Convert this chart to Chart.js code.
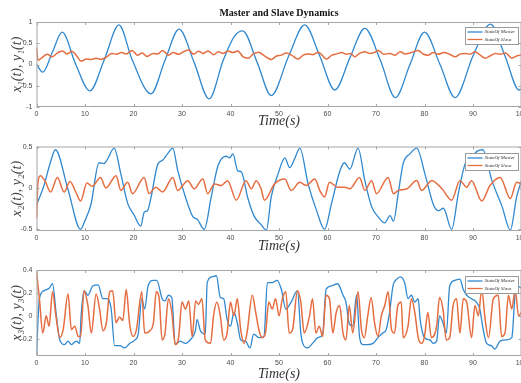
<!DOCTYPE html>
<html>
<head>
<meta charset="utf-8">
<script src="https://cdn.jsdelivr.net/npm/chart.js@4/dist/chart.umd.min.js"></script>
<style>
  html, body { margin: 0; background: #fff; overflow: hidden; }
  #wrap { position: relative; width: 521px; height: 383px; overflow: hidden; }
  canvas { position: absolute; left: 0; }
</style>
</head>
<body>
<div id="wrap">
  <canvas id="c1" width="523" height="130" style="top:0"></canvas>
  <canvas id="c2" width="523" height="125" style="top:130px"></canvas>
  <canvas id="c3" width="523" height="128" style="top:255px"></canvas>
</div>
<script>
// [time, value] samples for each state, master and slave
const master1 = [[0, 0], [1.3, -0.18], [3.3, 0.3], [5.3, 0.76], [8.1, 0.0], [11.0, -0.62], [14.0, 0.12], [17.0, 0.93],
  [19.7, 0.12], [23.6, -0.69], [26.5, 0.1], [29.4, 0.83], [32.5, 0.05], [35.6, -0.81], [38.5, 0.1], [40.8, 0.66],
  [42.5, 0.79], [45.5, 0.05], [48.4, -0.73], [52.0, 0.2], [55.3, 0.93], [58.4, 0.2], [61.5, -0.6], [64.6, 0.15],
  [67.7, 0.85], [70.9, 0.1], [74.0, -0.78], [77.0, 0.0], [80.0, 0.76], [83.2, 0.0], [86.3, -0.78], [90.0, 0.2],
  [93.6, 0.95], [96.6, 0.2], [99.5, -0.6], [100, -0.58]];
const slave1 = [[0, 0.40], [0.3, 0.10], [1.2, 0.17], [2.2, 0.24], [3.2, 0.18], [4.3, 0.27], [5.3, 0.32], [6.3, 0.25],
  [7.3, 0.31], [8.2, 0.22], [9.2, 0.08], [10.3, 0.13], [11.3, 0.12], [12.3, 0.15], [13.3, 0.12], [14.5, 0.18],
  [15.5, 0.26], [16.5, 0.24], [17.5, 0.28], [18.5, 0.25], [19.7, 0.33], [20.8, 0.22], [21.8, 0.27], [22.8, 0.19],
  [24.0, 0.26], [25.0, 0.25], [26.0, 0.33], [27.2, 0.22], [28.2, 0.28], [29.3, 0.24], [30.3, 0.30], [31.4, 0.34],
  [32.4, 0.24], [33.4, 0.31], [34.4, 0.26], [35.4, 0.32], [36.5, 0.23], [37.5, 0.30], [38.5, 0.26], [39.5, 0.32],
  [40.5, 0.28], [41.5, 0.32], [42.6, 0.18], [43.7, 0.15], [44.7, 0.25], [45.8, 0.29], [46.8, 0.22], [48.4, 0.12],
  [49.5, 0.20], [50.5, 0.22], [51.5, 0.27], [52.6, 0.22], [53.9, 0.13], [55.0, 0.22], [56.0, 0.25], [57.0, 0.23],
  [58.1, 0.29], [59.8, 0.13], [60.9, 0.22], [61.9, 0.25], [62.9, 0.28], [63.9, 0.24], [64.8, 0.26], [65.6, 0.18],
  [66.6, 0.26], [67.7, 0.30], [68.7, 0.26], [69.6, 0.28], [70.5, 0.33], [71.6, 0.24], [72.9, 0.26], [73.9, 0.22],
  [75.0, 0.30], [76.0, 0.25], [77.0, 0.27], [78.7, 0.33], [79.8, 0.24], [80.8, 0.22], [81.8, 0.28], [82.8, 0.24],
  [84.0, 0.28], [85.2, 0.24], [86.3, 0.18], [87.4, 0.25], [88.4, 0.26], [89.4, 0.24], [90.4, 0.30], [91.5, 0.22],
  [92.5, 0.15], [93.5, 0.20], [94.6, 0.26], [95.6, 0.24], [96.7, 0.27], [98.0, 0.15], [99.0, 0.20], [100, 0.23]];

const master2 = [[0, -0.21], [1.5, 0.02], [2.8, 0.3], [3.9, 0.47], [6.5, -0.02], [9.1, -0.51], [10.0, -0.4],
  [11.2, -0.21], [12.9, 0.31], [13.9, 0.30], [14.6, 0.35], [16.0, 0.49], [17.4, 0.17], [18.8, -0.19], [20.1, -0.33],
  [21.5, -0.47], [22.2, -0.30], [22.9, -0.28], [23.6, -0.12], [25.0, 0.29], [26.0, 0.34], [27.0, 0.42], [28.1, 0.49],
  [29.1, 0.22], [30.8, -0.13], [32.2, -0.35], [33.2, -0.39], [34.6, -0.51], [36.0, -0.12], [37.4, 0.27], [39.1, 0.39],
  [39.8, 0.37], [40.5, 0.42], [41.5, 0.21], [42.2, 0.20], [43.6, -0.13], [44.9, -0.35], [46.3, -0.45], [47.4, -0.52],
  [48.4, -0.11], [49.8, 0.17], [51.2, 0.37], [52.2, 0.25], [53.3, 0.37], [54.3, 0.49], [56.0, 0.05], [57.7, -0.27],
  [59.4, -0.51], [60.8, -0.2], [62.5, 0.2], [63.5, 0.31], [64.6, 0.23], [66.3, 0.49], [67.7, 0.09], [69.1, -0.23],
  [70.5, -0.36], [71.8, -0.43], [72.9, -0.34], [73.6, -0.41], [74.6, -0.06], [75.6, 0.30], [77.0, 0.42], [78.4, 0.49],
  [80.1, 0.17], [81.8, -0.2], [82.9, -0.28], [83.9, -0.25], [85.6, -0.51], [87.0, -0.06], [88.4, 0.30], [89.7, 0.37],
  [90.8, 0.45], [92.0, 0.47], [93.9, 0.09], [96.0, -0.23], [97.7, -0.52], [99.0, -0.11], [100, 0.09]];
const slave2 = [[0, -0.38], [0.3, 0.07], [0.8, 0.15], [1.8, 0.08], [2.9, -0.05], [4.3, 0.13], [5.7, -0.05], [6.9, 0.08],
  [8.1, -0.05], [9.1, -0.16], [10.4, 0.06], [11.5, 0.02], [13.2, 0.13], [14.3, 0.0], [16.4, 0.15], [17.4, -0.03],
  [18.8, 0.07], [19.8, -0.07], [22.2, 0.13], [23.2, -0.07], [24.6, 0.01], [26.0, -0.05], [28.1, 0.13], [29.1, -0.03],
  [31.2, 0.09], [32.5, -0.01], [34.3, 0.11], [35.3, -0.07], [36.7, 0.05], [38.1, 0.03], [39.4, 0.09], [41.2, -0.15],
  [43.2, 0.09], [44.3, -0.01], [45.3, 0.09], [46.3, -0.01], [47.0, -0.15], [49.1, 0.05], [51.2, 0.11], [52.5, -0.03],
  [54.3, 0.07], [55.6, 0.03], [57.4, 0.11], [58.4, -0.03], [59.4, -0.11], [60.4, 0.07], [62.1, 0.01], [63.5, 0.01],
  [64.6, -0.01], [66.6, 0.13], [67.7, -0.03], [69.1, 0.09], [70.1, -0.07], [72.5, 0.13], [73.6, -0.07], [74.6, -0.03],
  [76.4, -0.01], [78.4, 0.09], [79.4, -0.03], [81.5, 0.09], [83.6, -0.01], [85.6, -0.15], [87.3, 0.09], [88.7, 0.01],
  [89.7, 0.09], [91.8, -0.16], [93.5, 0.03], [95.6, 0.13], [97.7, -0.13], [99.0, 0.07], [100, 0.05]];

const master3 = [[0, -0.34], [0.6, 0.15], [1.6, 0.22], [2.6, 0.24], [3.3, 0.28], [4.1, 0.0], [4.8, -0.21], [5.8, -0.25],
  [6.5, -0.22], [7.2, -0.25], [8.2, -0.22], [8.9, -0.24], [9.2, 0.0], [9.8, 0.22], [10.6, 0.18], [11.6, 0.26],
  [12.7, 0.27], [13.7, 0.15], [14.4, 0.15], [15.4, 0.06], [16.1, -0.26], [17.2, -0.26], [18.2, -0.28], [19.2, -0.24],
  [20.3, -0.21], [21.0, -0.15], [21.7, 0.15], [22.3, 0.06], [23.0, 0.26], [24.1, 0.31], [24.8, 0.31], [25.9, 0.15],
  [26.5, 0.13], [27.2, 0.18], [27.9, 0.16], [28.6, -0.25], [29.6, -0.22], [30.7, -0.24], [31.7, -0.21], [32.8, -0.12],
  [33.1, -0.03], [33.8, -0.13], [34.8, -0.16], [35.2, 0.29], [36.2, 0.34], [37.1, 0.35], [37.9, 0.16], [38.6, 0.15],
  [39.3, -0.03], [40.0, -0.09], [40.7, 0.03], [41.4, -0.06], [42.1, -0.21], [43.1, -0.22], [44.0, -0.28], [44.8, -0.16],
  [45.9, -0.19], [46.9, -0.18], [47.6, 0.29], [48.6, 0.29], [49.6, 0.31], [50.5, 0.23], [51.4, 0.06], [52.5, 0.12],
  [53.8, 0.22], [54.5, -0.15], [54.9, -0.24], [55.9, -0.28], [56.9, -0.24], [58.0, -0.19], [59.0, -0.16], [59.7, 0.23],
  [60.7, 0.26], [62.1, 0.28], [63.2, 0.18], [63.8, 0.12], [64.5, -0.07], [65.2, -0.09], [66.0, 0.18], [66.6, -0.18],
  [67.3, -0.25], [68.3, -0.25], [69.4, -0.24], [70.4, -0.19], [71.4, -0.15], [72.1, -0.12], [72.8, 0.03], [73.5, 0.26],
  [74.3, 0.32], [75.0, 0.34], [75.9, 0.29], [76.6, 0.15], [77.3, 0.18], [78.0, 0.12], [78.7, 0.15], [79.1, -0.03],
  [80.0, -0.19], [81.1, -0.21], [81.8, -0.24], [82.5, -0.22], [83.1, 0.0], [83.8, -0.06], [84.5, -0.15], [85.2, 0.26],
  [86.3, 0.31], [87.3, 0.32], [88.0, 0.23], [88.7, 0.18], [89.7, 0.15], [90.7, 0.12], [91.4, 0.06], [92.1, -0.12],
  [92.8, -0.24], [93.8, -0.26], [94.5, -0.29], [95.6, -0.22], [96.9, -0.21], [98.0, -0.19], [98.7, 0.2], [99.3, 0.26],
  [100, 0.24]];
const slave3 = [[0, 0.38], [0.6, 0.15], [1.3, -0.15], [2.0, 0.0], [2.6, -0.09], [3.3, 0.21], [4.0, 0.0], [4.8, -0.19],
  [5.5, -0.12], [6.5, 0.19], [7.2, -0.12], [7.9, -0.09], [8.6, -0.18], [9.1, -0.18], [9.8, 0.22], [10.6, 0.09],
  [11.3, -0.15], [12.3, 0.19], [13.0, 0.06], [13.7, -0.13], [14.4, -0.06], [15.1, 0.21], [15.7, 0.22], [16.4, -0.06],
  [17.1, -0.01], [17.8, -0.04], [18.5, 0.23], [19.2, -0.07], [19.9, -0.18], [20.6, -0.12], [21.7, 0.21], [22.3, -0.15],
  [23.4, -0.13], [24.1, -0.06], [24.7, 0.21], [25.3, 0.15], [25.9, -0.21], [26.5, -0.15], [27.2, 0.15], [27.9, 0.03],
  [28.6, -0.25], [29.3, -0.19], [30.0, 0.12], [30.7, 0.06], [31.4, 0.13], [32.1, -0.18], [32.8, 0.13], [33.4, 0.10],
  [34.1, 0.15], [34.8, -0.21], [35.9, -0.24], [36.5, 0.0], [37.2, 0.12], [37.9, 0.0], [38.6, -0.21], [39.3, -0.15],
  [40.0, 0.12], [40.7, 0.0], [41.4, 0.15], [42.1, -0.12], [42.8, -0.24], [43.4, -0.15], [44.5, 0.18], [45.2, 0.03],
  [45.9, -0.13], [46.5, -0.19], [47.2, -0.15], [47.9, 0.12], [48.6, 0.06], [49.3, 0.15], [50.0, 0.0], [50.7, 0.15],
  [51.4, 0.21], [52.1, -0.15], [52.8, -0.12], [53.8, 0.22], [54.5, 0.12], [55.2, -0.15], [56.3, 0.0], [56.9, 0.15],
  [57.6, -0.15], [58.3, -0.09], [59.0, -0.18], [59.7, 0.18], [60.4, 0.15], [61.1, -0.15], [61.8, 0.03], [62.5, 0.09],
  [63.2, -0.15], [63.8, -0.21], [64.5, 0.09], [65.2, -0.15], [66.3, 0.21], [67.0, -0.12], [67.6, -0.19], [68.3, 0.0],
  [69.0, 0.16], [69.7, -0.06], [70.4, -0.18], [71.1, 0.0], [71.8, 0.09], [72.5, 0.21], [73.2, -0.12], [73.8, -0.15],
  [74.5, 0.09], [75.2, 0.12], [75.6, -0.19], [76.6, -0.09], [77.3, 0.15], [78.0, 0.03], [78.7, -0.19], [79.4, -0.24],
  [80.0, -0.18], [80.7, 0.03], [81.4, -0.19], [82.5, -0.09], [83.1, 0.16], [83.8, 0.06], [84.5, -0.21], [85.2, -0.19],
  [85.9, 0.09], [86.6, 0.15], [87.3, -0.15], [88.0, 0.15], [88.7, 0.12], [89.7, -0.19], [90.4, 0.09], [91.1, 0.0],
  [91.8, 0.23], [92.5, -0.03], [93.2, -0.19], [94.2, 0.15], [95.2, 0.18], [95.9, -0.18], [96.6, -0.15], [97.3, 0.18],
  [98.0, 0.06], [98.7, 0.23], [99.4, 0.0], [100, 0.03]];

const seriesLabels = ['StateOf Master', 'StateOf Slave'];
const xTicks = { min: 0, max: 100, step: 10 };

const BLUE = '#3088cf';
const ORANGE = '#e56d40';
const TICK_FONT = { family: 'Liberation Sans', size: 7 };
const TICK_COLOR = '#4a4a4a';

// box, inward tick marks and a small boxed legend in the top right corner
const frame = {
  id: 'frame',
  afterDatasetsDraw(chart, args, opts) {
    const { ctx, chartArea: a, scales } = chart;
    ctx.save();
    ctx.strokeStyle = '#a6a6a6';
    ctx.lineWidth = 1;
    ctx.strokeRect(a.left + 0.5, a.top + 0.5, a.right - a.left - 1, a.bottom - a.top - 1);
    ctx.beginPath();
    scales.x.ticks.forEach(t => {
      const px = Math.round(scales.x.getPixelForValue(t.value)) + 0.5;
      ctx.moveTo(px, a.bottom); ctx.lineTo(px, a.bottom - 3);
      ctx.moveTo(px, a.top); ctx.lineTo(px, a.top + 3);
    });
    scales.y.ticks.forEach(t => {
      const py = Math.round(scales.y.getPixelForValue(t.value)) + 0.5;
      ctx.moveTo(a.left, py); ctx.lineTo(a.left + 3, py);
      ctx.moveTo(a.right, py); ctx.lineTo(a.right - 3, py);
    });
    ctx.stroke();

    const w = 53, h = 17;
    const lx = Math.round(a.right - w - 2.5) - 0.5;
    const ly = Math.round(a.top + opts.legendTop) + 0.5;
    ctx.fillStyle = '#fff';
    ctx.fillRect(lx, ly, w, h);
    ctx.strokeStyle = '#9a9a9a';
    ctx.strokeRect(lx, ly, w, h);
    ctx.font = 'italic 5px "Liberation Serif"';
    ctx.textBaseline = 'middle';
    chart.data.datasets.forEach((ds, i) => {
      const y = ly + 4.5 + i * 7.5;
      ctx.strokeStyle = ds.borderColor;
      ctx.lineWidth = 1.3;
      ctx.beginPath();
      ctx.moveTo(lx + 2, y); ctx.lineTo(lx + 17, y);
      ctx.stroke();
      ctx.fillStyle = '#333';
      ctx.fillText(ds.label, lx + 19, y);
    });
    ctx.restore();
  }
};

function fmt(v) {
  return String(Math.round(v * 100) / 100);
}

function makePanel(id, p) {
  return new Chart(document.getElementById(id), {
    type: 'line',
    data: {
      datasets: [
        { label: seriesLabels[0], data: p.master, borderColor: BLUE, borderWidth: 1.3, order: 1 },
        { label: seriesLabels[1], data: p.slave, borderColor: ORANGE, borderWidth: 1.5, order: 0 }
      ]
    },
    options: {
      responsive: false,
      animation: false,
      devicePixelRatio: 1,
      layout: { padding: { left: 0, right: 1.5, top: p.padTop, bottom: 0 } },
      elements: {
        point: { radius: 0 },
        line: { cubicInterpolationMode: 'monotone' }
      },
      plugins: {
        legend: { display: false },
        tooltip: { enabled: false },
        title: p.title ? {
          display: true,
          text: p.title,
          fullSize: false,
          color: '#111',
          font: { family: 'Liberation Serif', size: 10, weight: 'bold' },
          padding: { top: 7, bottom: 3 }
        } : { display: false },
        frame: { legendTop: p.legendTop }
      },
      scales: {
        x: {
          type: 'linear',
          min: xTicks.min,
          max: xTicks.max,
          grid: { display: false, drawTicks: false },
          border: { display: false },
          ticks: { stepSize: xTicks.step, padding: 3, maxRotation: 0, autoSkip: false, font: TICK_FONT, color: TICK_COLOR },
          title: {
            display: true,
            text: 'Time(s)',
            color: '#333',
            font: { family: 'Liberation Serif', size: 14, style: 'italic' },
            padding: 0
          },
          afterFit: s => { s.height = p.xHeight; s.paddingLeft = 0; s.paddingRight = 0; }
        },
        y: {
          min: p.yMin,
          max: p.yMax,
          grid: { display: false, drawTicks: false },
          border: { display: false },
          ticks: { stepSize: p.yStep, includeBounds: false, padding: 4, font: TICK_FONT, color: TICK_COLOR, callback: fmt },
          title: {
            display: true,
            text: p.yLabel,
            color: '#444',
            font: { family: 'Liberation Serif', size: 14, style: 'italic' },
            padding: { top: 9, bottom: 0 }
          },
          afterFit: s => { s.width = 36.5; s.paddingTop = 0; s.paddingBottom = 0; }
        }
      }
    },
    plugins: [frame]
  });
}

makePanel('c1', {
  master: master1, slave: slave1, title: 'Master and Slave Dynamics',
  yLabel: 'x₁(t), y₁(t)', yMin: -1, yMax: 1, yStep: 0.5,
  padTop: 0, xHeight: 23, legendTop: 5
});
makePanel('c2', {
  master: master2, slave: slave2,
  yLabel: 'x₂(t), y₂(t)', yMin: -0.53, yMax: 0.51, yStep: 0.5,
  padTop: 16.5, xHeight: 24, legendTop: 6.5
});
makePanel('c3', {
  master: master3, slave: slave3,
  yLabel: 'x₃(t), y₃(t)', yMin: -0.35, yMax: 0.4, yStep: 0.2,
  padTop: 15, xHeight: 27, legendTop: 6
});
</script>
</body>
</html>
